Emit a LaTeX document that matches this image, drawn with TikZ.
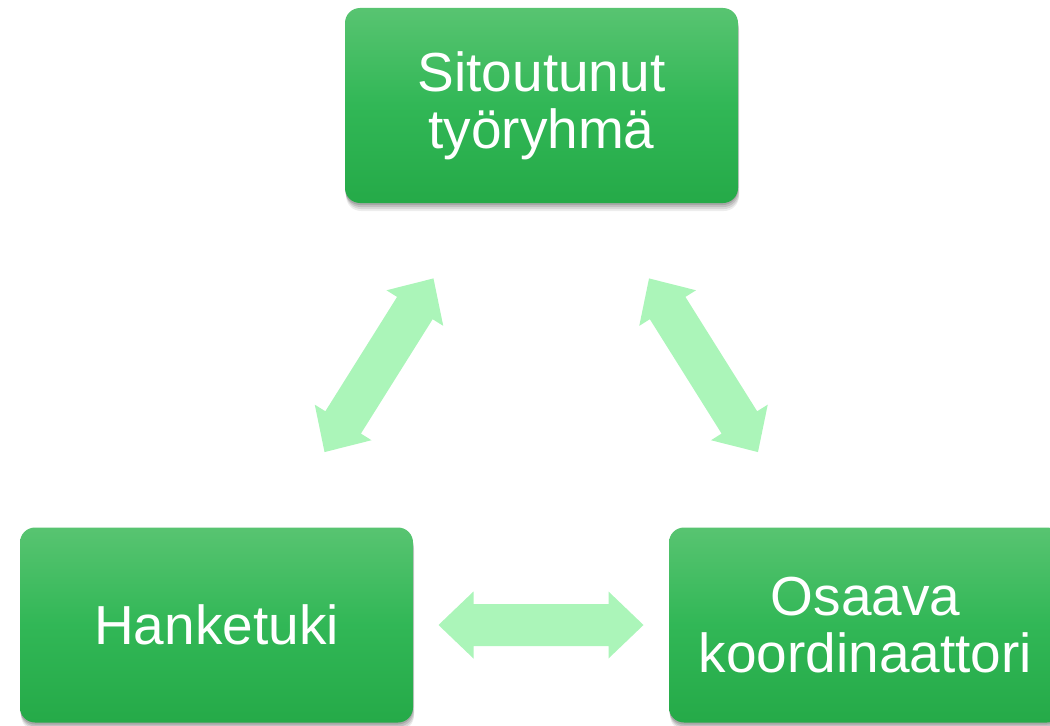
\documentclass[tikz,border=0pt]{standalone}
\usepackage{fontspec}
\setmainfont{Liberation Sans}
\usetikzlibrary{shadows,calc}
\definecolor{gtop}{RGB}{88,196,113}
\definecolor{gmid}{RGB}{49,183,86}
\definecolor{gbot}{RGB}{37,170,72}
\definecolor{arrowgreen}{RGB}{171,245,185}
\tikzset{
  softshadow/.style={
    drop shadow={shadow xshift=0.5pt, shadow yshift=-4pt, opacity=0.07, fill=black},
    drop shadow={shadow xshift=0.5pt, shadow yshift=-3pt, opacity=0.09, fill=black},
    drop shadow={shadow xshift=0.3pt, shadow yshift=-2pt, opacity=0.11, fill=black},
    drop shadow={shadow xshift=0pt, shadow yshift=-1pt, opacity=0.13, fill=black}},
  box/.style={rounded corners=7.5pt, minimum width=196.5pt, minimum height=97.5pt,
    top color=gtop, bottom color=gbot, middle color=gmid,
    text=white, align=center, inner sep=0pt,
    font=\fontsize{27.5}{28.5}\selectfont, softshadow},
  blockarrow/.style={fill=arrowgreen}
}
\newcommand{\dblarrow}[2]{%
  \fill[blockarrow, shift={(#1)}, rotate=#2]
    (-102.5,0) -- (-67.5,33.5) -- (-67.5,21) -- (67.5,21) -- (67.5,33.5)
    -- (102.5,0) -- (67.5,-33.5) -- (67.5,-21) -- (-67.5,-21) -- (-67.5,-33.5) -- cycle;}
\begin{document}
\begin{tikzpicture}[x=0.5pt,y=0.5pt]
\useasboundingbox (0,0) rectangle (1050,725);
\clip (0,0) rectangle (1050,725);
\node[box] (top) at (541.5,619.5) {Sitoutunut\\työryhmä};
\node[box] (left) at (216.5,100) {Hanketuki};
\node[box] (right) at (865.5,100) {Osaava\\koordinaattori};
\coordinate (mlt) at ($(left)!0.5!(top)$);
\coordinate (mtr) at ($(top)!0.5!(right)$);
\coordinate (mlr) at ($(left)!0.5!(right)$);
\dblarrow{mlt}{57.9}
\dblarrow{mtr}{-57.9}
\dblarrow{mlr}{0}
\end{tikzpicture}
\end{document}
